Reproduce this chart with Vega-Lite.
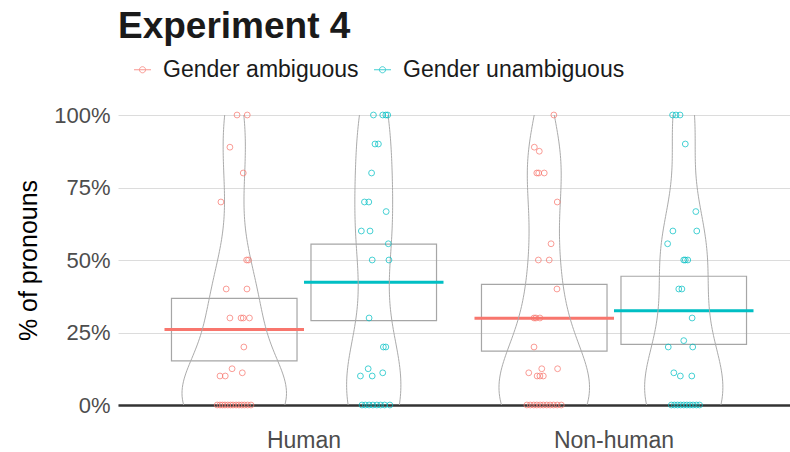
{
  "$schema": "https://vega.github.io/schema/vega-lite/v6.json",
  "width": 672,
  "height": 290,
  "autosize": {"type": "none"},
  "padding": {"left": 118, "top": 115, "right": 0, "bottom": 47},
  "background": "white",
  "title": {"text": "Experiment 4", "anchor": "start", "frame": "group", "fontSize": 37, "fontWeight": "bold", "color": "#1a1a1a", "font": "Liberation Sans", "offset": 12},
  "datasets": {
    "summ": [
      {"category": "Human", "gender": "Gender ambiguous", "mean": 0.26, "lo": 0.152, "hi": 0.368},
      {"category": "Human", "gender": "Gender unambiguous", "mean": 0.423, "lo": 0.291, "hi": 0.555},
      {"category": "Non-human", "gender": "Gender ambiguous", "mean": 0.299, "lo": 0.186, "hi": 0.416},
      {"category": "Non-human", "gender": "Gender unambiguous", "mean": 0.325, "lo": 0.209, "hi": 0.444}
    ],
    "pts": [
      {"category": "Human", "gender": "Gender ambiguous", "value": 1, "jitter": 0.009},
      {"category": "Human", "gender": "Gender ambiguous", "value": 1, "jitter": 0.042},
      {"category": "Human", "gender": "Gender ambiguous", "value": 0.889, "jitter": -0.014},
      {"category": "Human", "gender": "Gender ambiguous", "value": 0.8, "jitter": 0.029},
      {"category": "Human", "gender": "Gender ambiguous", "value": 0.7, "jitter": -0.043},
      {"category": "Human", "gender": "Gender ambiguous", "value": 0.5, "jitter": 0.040},
      {"category": "Human", "gender": "Gender ambiguous", "value": 0.5, "jitter": 0.046},
      {"category": "Human", "gender": "Gender ambiguous", "value": 0.4, "jitter": -0.026},
      {"category": "Human", "gender": "Gender ambiguous", "value": 0.4, "jitter": 0.041},
      {"category": "Human", "gender": "Gender ambiguous", "value": 0.3, "jitter": -0.014},
      {"category": "Human", "gender": "Gender ambiguous", "value": 0.3, "jitter": 0.022},
      {"category": "Human", "gender": "Gender ambiguous", "value": 0.3, "jitter": 0.029},
      {"category": "Human", "gender": "Gender ambiguous", "value": 0.3, "jitter": 0.049},
      {"category": "Human", "gender": "Gender ambiguous", "value": 0.2, "jitter": 0.031},
      {"category": "Human", "gender": "Gender ambiguous", "value": 0.125, "jitter": -0.007},
      {"category": "Human", "gender": "Gender ambiguous", "value": 0.111, "jitter": 0.026},
      {"category": "Human", "gender": "Gender ambiguous", "value": 0.1, "jitter": -0.046},
      {"category": "Human", "gender": "Gender ambiguous", "value": 0.1, "jitter": -0.029},
      {"category": "Human", "gender": "Gender ambiguous", "value": 0, "jitter": -0.055},
      {"category": "Human", "gender": "Gender ambiguous", "value": 0, "jitter": -0.046},
      {"category": "Human", "gender": "Gender ambiguous", "value": 0, "jitter": -0.038},
      {"category": "Human", "gender": "Gender ambiguous", "value": 0, "jitter": -0.030},
      {"category": "Human", "gender": "Gender ambiguous", "value": 0, "jitter": -0.021},
      {"category": "Human", "gender": "Gender ambiguous", "value": 0, "jitter": -0.012},
      {"category": "Human", "gender": "Gender ambiguous", "value": 0, "jitter": -0.004},
      {"category": "Human", "gender": "Gender ambiguous", "value": 0, "jitter": 0.006},
      {"category": "Human", "gender": "Gender ambiguous", "value": 0, "jitter": 0.015},
      {"category": "Human", "gender": "Gender ambiguous", "value": 0, "jitter": 0.024},
      {"category": "Human", "gender": "Gender ambiguous", "value": 0, "jitter": 0.033},
      {"category": "Human", "gender": "Gender ambiguous", "value": 0, "jitter": 0.043},
      {"category": "Human", "gender": "Gender ambiguous", "value": 0, "jitter": 0.054},
      {"category": "Human", "gender": "Gender unambiguous", "value": 1, "jitter": -0.001},
      {"category": "Human", "gender": "Gender unambiguous", "value": 1, "jitter": 0.029},
      {"category": "Human", "gender": "Gender unambiguous", "value": 1, "jitter": 0.039},
      {"category": "Human", "gender": "Gender unambiguous", "value": 1, "jitter": 0.045},
      {"category": "Human", "gender": "Gender unambiguous", "value": 0.9, "jitter": 0.004},
      {"category": "Human", "gender": "Gender unambiguous", "value": 0.9, "jitter": 0.015},
      {"category": "Human", "gender": "Gender unambiguous", "value": 0.8, "jitter": -0.007},
      {"category": "Human", "gender": "Gender unambiguous", "value": 0.7, "jitter": -0.030},
      {"category": "Human", "gender": "Gender unambiguous", "value": 0.7, "jitter": -0.016},
      {"category": "Human", "gender": "Gender unambiguous", "value": 0.667, "jitter": 0.040},
      {"category": "Human", "gender": "Gender unambiguous", "value": 0.6, "jitter": -0.040},
      {"category": "Human", "gender": "Gender unambiguous", "value": 0.6, "jitter": -0.012},
      {"category": "Human", "gender": "Gender unambiguous", "value": 0.556, "jitter": 0.047},
      {"category": "Human", "gender": "Gender unambiguous", "value": 0.5, "jitter": -0.005},
      {"category": "Human", "gender": "Gender unambiguous", "value": 0.5, "jitter": 0.049},
      {"category": "Human", "gender": "Gender unambiguous", "value": 0.3, "jitter": -0.015},
      {"category": "Human", "gender": "Gender unambiguous", "value": 0.2, "jitter": 0.031},
      {"category": "Human", "gender": "Gender unambiguous", "value": 0.2, "jitter": 0.039},
      {"category": "Human", "gender": "Gender unambiguous", "value": 0.125, "jitter": -0.018},
      {"category": "Human", "gender": "Gender unambiguous", "value": 0.111, "jitter": 0.029},
      {"category": "Human", "gender": "Gender unambiguous", "value": 0.1, "jitter": -0.043},
      {"category": "Human", "gender": "Gender unambiguous", "value": 0.1, "jitter": -0.005},
      {"category": "Human", "gender": "Gender unambiguous", "value": 0, "jitter": -0.038},
      {"category": "Human", "gender": "Gender unambiguous", "value": 0, "jitter": -0.027},
      {"category": "Human", "gender": "Gender unambiguous", "value": 0, "jitter": -0.015},
      {"category": "Human", "gender": "Gender unambiguous", "value": 0, "jitter": -0.003},
      {"category": "Human", "gender": "Gender unambiguous", "value": 0, "jitter": 0.010},
      {"category": "Human", "gender": "Gender unambiguous", "value": 0, "jitter": 0.022},
      {"category": "Human", "gender": "Gender unambiguous", "value": 0, "jitter": 0.035},
      {"category": "Human", "gender": "Gender unambiguous", "value": 0, "jitter": 0.052},
      {"category": "Non-human", "gender": "Gender ambiguous", "value": 1, "jitter": 0.031},
      {"category": "Non-human", "gender": "Gender ambiguous", "value": 0.889, "jitter": -0.032},
      {"category": "Non-human", "gender": "Gender ambiguous", "value": 0.875, "jitter": -0.016},
      {"category": "Non-human", "gender": "Gender ambiguous", "value": 0.8, "jitter": -0.024},
      {"category": "Non-human", "gender": "Gender ambiguous", "value": 0.8, "jitter": -0.018},
      {"category": "Non-human", "gender": "Gender ambiguous", "value": 0.8, "jitter": 0.000},
      {"category": "Non-human", "gender": "Gender ambiguous", "value": 0.7, "jitter": 0.042},
      {"category": "Non-human", "gender": "Gender ambiguous", "value": 0.556, "jitter": 0.022},
      {"category": "Non-human", "gender": "Gender ambiguous", "value": 0.5, "jitter": -0.019},
      {"category": "Non-human", "gender": "Gender ambiguous", "value": 0.5, "jitter": 0.016},
      {"category": "Non-human", "gender": "Gender ambiguous", "value": 0.4, "jitter": 0.041},
      {"category": "Non-human", "gender": "Gender ambiguous", "value": 0.3, "jitter": -0.033},
      {"category": "Non-human", "gender": "Gender ambiguous", "value": 0.3, "jitter": -0.027},
      {"category": "Non-human", "gender": "Gender ambiguous", "value": 0.3, "jitter": -0.014},
      {"category": "Non-human", "gender": "Gender ambiguous", "value": 0.2, "jitter": -0.033},
      {"category": "Non-human", "gender": "Gender ambiguous", "value": 0.125, "jitter": -0.008},
      {"category": "Non-human", "gender": "Gender ambiguous", "value": 0.125, "jitter": 0.043},
      {"category": "Non-human", "gender": "Gender ambiguous", "value": 0.111, "jitter": -0.050},
      {"category": "Non-human", "gender": "Gender ambiguous", "value": 0.1, "jitter": -0.023},
      {"category": "Non-human", "gender": "Gender ambiguous", "value": 0.1, "jitter": -0.014},
      {"category": "Non-human", "gender": "Gender ambiguous", "value": 0.1, "jitter": -0.003},
      {"category": "Non-human", "gender": "Gender ambiguous", "value": 0, "jitter": -0.056},
      {"category": "Non-human", "gender": "Gender ambiguous", "value": 0, "jitter": -0.045},
      {"category": "Non-human", "gender": "Gender ambiguous", "value": 0, "jitter": -0.034},
      {"category": "Non-human", "gender": "Gender ambiguous", "value": 0, "jitter": -0.024},
      {"category": "Non-human", "gender": "Gender ambiguous", "value": 0, "jitter": -0.013},
      {"category": "Non-human", "gender": "Gender ambiguous", "value": 0, "jitter": -0.003},
      {"category": "Non-human", "gender": "Gender ambiguous", "value": 0, "jitter": 0.008},
      {"category": "Non-human", "gender": "Gender ambiguous", "value": 0, "jitter": 0.019},
      {"category": "Non-human", "gender": "Gender ambiguous", "value": 0, "jitter": 0.030},
      {"category": "Non-human", "gender": "Gender ambiguous", "value": 0, "jitter": 0.042},
      {"category": "Non-human", "gender": "Gender ambiguous", "value": 0, "jitter": 0.055},
      {"category": "Non-human", "gender": "Gender unambiguous", "value": 1, "jitter": -0.036},
      {"category": "Non-human", "gender": "Gender unambiguous", "value": 1, "jitter": -0.025},
      {"category": "Non-human", "gender": "Gender unambiguous", "value": 1, "jitter": -0.012},
      {"category": "Non-human", "gender": "Gender unambiguous", "value": 0.9, "jitter": 0.005},
      {"category": "Non-human", "gender": "Gender unambiguous", "value": 0.667, "jitter": 0.039},
      {"category": "Non-human", "gender": "Gender unambiguous", "value": 0.6, "jitter": -0.035},
      {"category": "Non-human", "gender": "Gender unambiguous", "value": 0.6, "jitter": 0.042},
      {"category": "Non-human", "gender": "Gender unambiguous", "value": 0.556, "jitter": -0.052},
      {"category": "Non-human", "gender": "Gender unambiguous", "value": 0.5, "jitter": 0.000},
      {"category": "Non-human", "gender": "Gender unambiguous", "value": 0.5, "jitter": 0.005},
      {"category": "Non-human", "gender": "Gender unambiguous", "value": 0.5, "jitter": 0.013},
      {"category": "Non-human", "gender": "Gender unambiguous", "value": 0.4, "jitter": -0.016},
      {"category": "Non-human", "gender": "Gender unambiguous", "value": 0.4, "jitter": -0.006},
      {"category": "Non-human", "gender": "Gender unambiguous", "value": 0.3, "jitter": 0.027},
      {"category": "Non-human", "gender": "Gender unambiguous", "value": 0.222, "jitter": 0.000},
      {"category": "Non-human", "gender": "Gender unambiguous", "value": 0.2, "jitter": -0.050},
      {"category": "Non-human", "gender": "Gender unambiguous", "value": 0.2, "jitter": 0.029},
      {"category": "Non-human", "gender": "Gender unambiguous", "value": 0.111, "jitter": -0.032},
      {"category": "Non-human", "gender": "Gender unambiguous", "value": 0.1, "jitter": -0.011},
      {"category": "Non-human", "gender": "Gender unambiguous", "value": 0.1, "jitter": 0.026},
      {"category": "Non-human", "gender": "Gender unambiguous", "value": 0, "jitter": -0.040},
      {"category": "Non-human", "gender": "Gender unambiguous", "value": 0, "jitter": -0.030},
      {"category": "Non-human", "gender": "Gender unambiguous", "value": 0, "jitter": -0.020},
      {"category": "Non-human", "gender": "Gender unambiguous", "value": 0, "jitter": -0.010},
      {"category": "Non-human", "gender": "Gender unambiguous", "value": 0, "jitter": 0.000},
      {"category": "Non-human", "gender": "Gender unambiguous", "value": 0, "jitter": 0.010},
      {"category": "Non-human", "gender": "Gender unambiguous", "value": 0, "jitter": 0.020},
      {"category": "Non-human", "gender": "Gender unambiguous", "value": 0, "jitter": 0.030},
      {"category": "Non-human", "gender": "Gender unambiguous", "value": 0, "jitter": 0.041},
      {"category": "Non-human", "gender": "Gender unambiguous", "value": 0, "jitter": 0.051}
    ]
  },
  "layer": [
    {
      "data": {"name": "summ"},
      "layer": [
        {
          "mark": {"type": "bar", "fill": "transparent", "stroke": "#a6a6a6", "strokeWidth": 1.2},
          "encoding": {
            "x": {"field": "category", "type": "nominal", "scale": {"paddingInner": 0.1, "paddingOuter": 0.13387, "align": 0.56024},
                  "axis": {"title": null, "domain": true, "domainColor": "#333333", "domainWidth": 2.5, "ticks": false, "grid": false, "labelFontSize": 23, "labelColor": "#4d4d4d", "labelPadding": 24, "labelAngle": 0, "labelFont": "Liberation Sans"}},
            "xOffset": {"field": "gender", "type": "nominal", "scale": {"paddingInner": 0.1, "paddingOuter": 0.05}},
            "y": {"field": "lo", "type": "quantitative", "scale": {"domain": [0, 1], "nice": false},
                  "axis": {"title": "% of pronouns", "values": [0, 0.25, 0.5, 0.75, 1], "format": ".0%", "grid": true, "gridColor": "#dcdcdc", "gridWidth": 1, "domain": false, "ticks": false, "labelFontSize": 22, "labelColor": "#4d4d4d", "labelPadding": 8, "labelFont": "Liberation Sans", "titleFont": "Liberation Sans", "titleFontSize": 25, "titleFontWeight": "normal", "titleColor": "#000000", "titleX": -90, "titleY": 145, "titleAngle": -90, "titleAlign": "center", "titleBaseline": "middle"}},
            "y2": {"field": "hi"}
          }
        },
        {
          "mark": {"type": "bar", "fill": "transparent", "strokeWidth": 3},
          "encoding": {
            "x": {"field": "category", "type": "nominal"},
            "xOffset": {"field": "gender", "type": "nominal", "scale": {"paddingInner": 0, "paddingOuter": 0}},
            "y": {"field": "mean", "type": "quantitative"},
            "y2": {"field": "mean"},
            "stroke": {"field": "gender", "type": "nominal", "scale": {"domain": ["Gender ambiguous", "Gender unambiguous"], "range": ["#F8766D", "#00BFC4"]},
                       "legend": {"title": null, "orient": "none", "legendX": 13, "legendY": -57, "direction": "horizontal", "padding": 0,
                                  "symbolType": "M-1,0L1,0M-0.36,0A0.36,0.36,0,1,1,0.36,0A0.36,0.36,0,1,1,-0.36,0", "symbolSize": 289, "symbolStrokeWidth": 1, "symbolFillColor": "transparent", "symbolOpacity": 0.75,
                                  "labelFontSize": 23, "labelFont": "Liberation Sans", "labelColor": "#1a1a1a", "labelOffset": 9, "labelLimit": 400, "columnPadding": 12}}
          }
        }
      ],
      "resolve": {"scale": {"xOffset": "independent"}}
    },
    {
      "data": {"name": "pts"},
      "transform": [
        {"filter": "datum.category === 'Human' && datum.gender === 'Gender ambiguous'"},
        {"density": "value", "bandwidth": 0.135, "extent": [0, 1], "steps": 100, "as": ["value", "density"]}
      ],
      "layer": [
        {
          "mark": {"type": "line", "stroke": "#ababab", "strokeWidth": 1},
          "encoding": {
            "y": {"field": "value", "type": "quantitative"},
            "x": {"field": "density", "type": "quantitative", "scale": {"domain": [-3.6328, 17.3672], "nice": false, "zero": false}, "axis": null},
            "order": {"field": "value", "type": "quantitative"}
          }
        },
        {
          "mark": {"type": "line", "stroke": "#ababab", "strokeWidth": 1},
          "encoding": {
            "y": {"field": "value", "type": "quantitative"},
            "x": {"field": "density", "type": "quantitative", "scale": {"domain": [-17.3672, 3.6328], "reverse": true, "nice": false, "zero": false}, "axis": null},
            "order": {"field": "value", "type": "quantitative"}
          }
        }
      ],
      "resolve": {"scale": {"x": "independent"}}
    },
    {
      "data": {"name": "pts"},
      "transform": [
        {"filter": "datum.category === 'Human' && datum.gender === 'Gender unambiguous'"},
        {"density": "value", "bandwidth": 0.173, "extent": [0, 1], "steps": 100, "as": ["value", "density"]}
      ],
      "layer": [
        {
          "mark": {"type": "line", "stroke": "#ababab", "strokeWidth": 1},
          "encoding": {
            "y": {"field": "value", "type": "quantitative"},
            "x": {"field": "density", "type": "quantitative", "scale": {"domain": [-9.6509, 15.7075], "nice": false, "zero": false}, "axis": null},
            "order": {"field": "value", "type": "quantitative"}
          }
        },
        {
          "mark": {"type": "line", "stroke": "#ababab", "strokeWidth": 1},
          "encoding": {
            "y": {"field": "value", "type": "quantitative"},
            "x": {"field": "density", "type": "quantitative", "scale": {"domain": [-15.7075, 9.6509], "reverse": true, "nice": false, "zero": false}, "axis": null},
            "order": {"field": "value", "type": "quantitative"}
          }
        }
      ],
      "resolve": {"scale": {"x": "independent"}}
    },
    {
      "data": {"name": "pts"},
      "transform": [
        {"filter": "datum.category === 'Non-human' && datum.gender === 'Gender ambiguous'"},
        {"density": "value", "bandwidth": 0.150, "extent": [0, 1], "steps": 100, "as": ["value", "density"]}
      ],
      "layer": [
        {
          "mark": {"type": "line", "stroke": "#ababab", "strokeWidth": 1},
          "encoding": {
            "y": {"field": "value", "type": "quantitative"},
            "x": {"field": "density", "type": "quantitative", "scale": {"domain": [-13.6182, 7.8514], "nice": false, "zero": false}, "axis": null},
            "order": {"field": "value", "type": "quantitative"}
          }
        },
        {
          "mark": {"type": "line", "stroke": "#ababab", "strokeWidth": 1},
          "encoding": {
            "y": {"field": "value", "type": "quantitative"},
            "x": {"field": "density", "type": "quantitative", "scale": {"domain": [-7.8514, 13.6182], "reverse": true, "nice": false, "zero": false}, "axis": null},
            "order": {"field": "value", "type": "quantitative"}
          }
        }
      ],
      "resolve": {"scale": {"x": "independent"}}
    },
    {
      "data": {"name": "pts"},
      "transform": [
        {"filter": "datum.category === 'Non-human' && datum.gender === 'Gender unambiguous'"},
        {"density": "value", "bandwidth": 0.155, "extent": [0, 1], "steps": 100, "as": ["value", "density"]}
      ],
      "layer": [
        {
          "mark": {"type": "line", "stroke": "#ababab", "strokeWidth": 1},
          "encoding": {
            "y": {"field": "value", "type": "quantitative"},
            "x": {"field": "density", "type": "quantitative", "scale": {"domain": [-18.1330, 3.4054], "nice": false, "zero": false}, "axis": null},
            "order": {"field": "value", "type": "quantitative"}
          }
        },
        {
          "mark": {"type": "line", "stroke": "#ababab", "strokeWidth": 1},
          "encoding": {
            "y": {"field": "value", "type": "quantitative"},
            "x": {"field": "density", "type": "quantitative", "scale": {"domain": [-3.4054, 18.1330], "reverse": true, "nice": false, "zero": false}, "axis": null},
            "order": {"field": "value", "type": "quantitative"}
          }
        }
      ],
      "resolve": {"scale": {"x": "independent"}}
    },
    {
      "data": {"name": "pts"},
      "transform": [{"filter": "datum.category === 'Human' && datum.gender === 'Gender ambiguous'"}],
      "mark": {"type": "point", "shape": "circle", "filled": false, "size": 34, "strokeWidth": 0.9, "opacity": 0.8},
      "encoding": {
        "x": {"field": "jitter", "type": "quantitative", "scale": {"domain": [-0.375, 1.79274], "nice": false, "zero": false}, "axis": null},
        "y": {"field": "value", "type": "quantitative"},
        "stroke": {"field": "gender", "type": "nominal"}
      }
    },
    {
      "data": {"name": "pts"},
      "transform": [{"filter": "datum.category === 'Human' && datum.gender === 'Gender unambiguous'"}],
      "mark": {"type": "point", "shape": "circle", "filled": false, "size": 34, "strokeWidth": 0.9, "opacity": 0.8},
      "encoding": {
        "x": {"field": "jitter", "type": "quantitative", "scale": {"domain": [-0.825, 1.34274], "nice": false, "zero": false}, "axis": null},
        "y": {"field": "value", "type": "quantitative"},
        "stroke": {"field": "gender", "type": "nominal"}
      }
    },
    {
      "data": {"name": "pts"},
      "transform": [{"filter": "datum.category === 'Non-human' && datum.gender === 'Gender ambiguous'"}],
      "mark": {"type": "point", "shape": "circle", "filled": false, "size": 34, "strokeWidth": 0.9, "opacity": 0.8},
      "encoding": {
        "x": {"field": "jitter", "type": "quantitative", "scale": {"domain": [-1.375, 0.79274], "nice": false, "zero": false}, "axis": null},
        "y": {"field": "value", "type": "quantitative"},
        "stroke": {"field": "gender", "type": "nominal"}
      }
    },
    {
      "data": {"name": "pts"},
      "transform": [{"filter": "datum.category === 'Non-human' && datum.gender === 'Gender unambiguous'"}],
      "mark": {"type": "point", "shape": "circle", "filled": false, "size": 34, "strokeWidth": 0.9, "opacity": 0.8},
      "encoding": {
        "x": {"field": "jitter", "type": "quantitative", "scale": {"domain": [-1.825, 0.34274], "nice": false, "zero": false}, "axis": null},
        "y": {"field": "value", "type": "quantitative"},
        "stroke": {"field": "gender", "type": "nominal"}
      }
    }
  ],
  "resolve": {"scale": {"x": "independent"}},
  "config": {
    "font": "Liberation Sans",
    "view": {"stroke": null}
  }
}
